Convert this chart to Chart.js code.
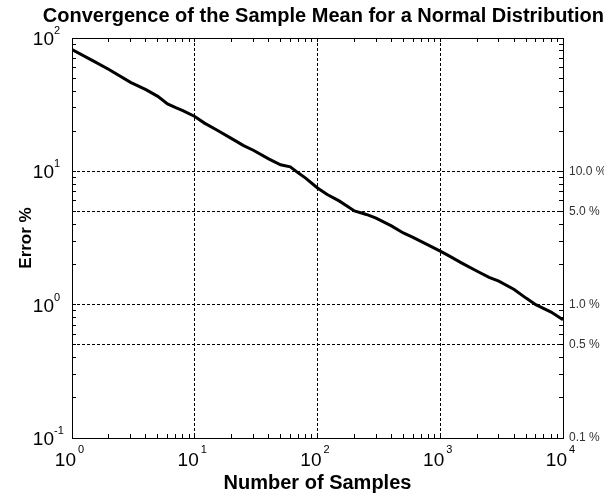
<!DOCTYPE html>
<html>
<head>
<meta charset="utf-8">
<script src="https://cdn.jsdelivr.net/npm/chart.js@4/dist/chart.umd.min.js"></script>
<style>
  html, body { margin: 0; padding: 0; background: #fff; }
  #wrap { width: 611px; height: 495px; }
</style>
</head>
<body>
<div id="wrap"><canvas id="convChart" width="611" height="495"></canvas></div>
<script>
// values
const sampleCounts = [1, 1.5, 2, 3, 4, 5, 6, 7, 8, 10, 12, 15, 20, 25, 30, 40, 50, 60, 70, 80,
    100, 120, 150, 200, 250, 300, 400, 500, 600, 800, 1000, 1200, 1500, 2000, 2500, 3000,
    4000, 5000, 6000, 8000, 10000];
const errorPct = [82, 67, 58, 46.5, 41, 36.5, 32, 30, 28.5, 25.8, 23, 20.5, 17.6, 15.6, 14.4, 12.4, 11.2, 10.8, 9.7, 8.9,
    7.5, 6.7, 6.0, 5.05, 4.75, 4.45, 3.9, 3.45, 3.2, 2.8, 2.52, 2.3, 2.05, 1.78, 1.6, 1.5,
    1.3, 1.12, 1.0, 0.88, 0.77];

const xExponents = ['0', '1', '2', '3', '4'];
const yExponents = ['-1', '0', '1', '2'];
const pctTicks = [10, 5, 1, 0.5, 0.1];
const pctLabels = ['10.0 %', '5.0 %', '1.0 %', '0.5 %', '0.1 %'];

const FONT = "'Liberation Sans', Arial, sans-serif";

// 1..9 x each decade between min and max (tick marks)
function logTicks(min, max) {
    const out = [];
    for (let e = Math.round(Math.log10(min)); e < Math.round(Math.log10(max)); e++) {
        for (let k = 1; k < 10; k++) out.push({ value: +(k * Math.pow(10, e)).toPrecision(6), major: k === 1 });
    }
    out.push({ value: max, major: true });
    return out;
}
const isInnerDecade = (v, min, max) => v > min && v < max && Math.abs(Math.log10(v) - Math.round(Math.log10(v))) < 1e-9;

// "10" with a raised exponent, drawn at the scale's own pixel positions
const powerLabels = {
    id: 'powerLabels',
    afterDraw(chart) {
        const ctx = chart.ctx;
        const xs = chart.scales.x, ys = chart.scales.y;
        ctx.save();
        ctx.fillStyle = '#000';
        xExponents.forEach(ex => {
            const px = xs.getPixelForValue(Math.pow(10, +ex));
            ctx.font = '19px ' + FONT;
            ctx.textAlign = 'right';
            ctx.textBaseline = 'alphabetic';
            ctx.fillText('10', px + 4, xs.top + 28);
            ctx.font = '11px ' + FONT;
            ctx.textAlign = 'left';
            ctx.fillText(ex, px + 6, xs.top + 15);
        });
        yExponents.forEach(ex => {
            const py = ys.getPixelForValue(Math.pow(10, +ex));
            ctx.font = '19px ' + FONT;
            ctx.textAlign = 'right';
            ctx.textBaseline = 'alphabetic';
            ctx.fillText('10', ys.right - 18, py + 7);
            ctx.font = '11px ' + FONT;
            ctx.textAlign = 'left';
            ctx.fillText(ex, ys.right - 18, py - 4);
        });
        ctx.restore();
    }
};

const ctx = document.getElementById('convChart').getContext('2d');
new Chart(ctx, {
    type: 'line',
    data: {
        datasets: [{
            label: 'Error %',
            data: sampleCounts.map((n, i) => ({ x: n, y: errorPct[i] })),
            borderColor: '#000',
            borderWidth: 3,
            pointRadius: 0,
            tension: 0,
            fill: false
        }]
    },
    options: {
        responsive: false,
        animation: false,
        devicePixelRatio: 1,
        layout: { padding: { left: 0, top: 0, bottom: 0, right: 7 } },
        plugins: {
            legend: { display: false },
            tooltip: { enabled: false },
            title: {
                display: true,
                text: 'Convergence of the Sample Mean for a Normal Distribution',
                align: 'end',
                color: '#000',
                font: { family: FONT, size: 20, weight: 'bold' },
                padding: { top: 4, bottom: 10 }
            }
        },
        scales: {
            x: {
                type: 'logarithmic',
                position: 'bottom',
                min: 1, max: 10000,
                afterBuildTicks: s => { s.ticks = logTicks(1, 10000); },
                afterFit: s => { s.height = 57; },
                ticks: { display: false, autoSkip: false },
                grid: {
                    color: c => isInnerDecade(c.tick.value, 1, 10000) ? '#000' : 'transparent',
                    tickColor: '#000',
                    tickLength: -4,
                    lineWidth: 1
                },
                border: { color: '#000', width: 1, dash: [3, 2] },
                title: {
                    display: true,
                    text: 'Number of Samples',
                    color: '#000',
                    font: { family: FONT, size: 20, weight: 'bold' },
                    padding: { top: 0, bottom: 0 }
                }
            },
            x2: {
                type: 'logarithmic',
                position: 'top',
                min: 1, max: 10000,
                afterBuildTicks: s => { s.ticks = logTicks(1, 10000); },
                afterFit: s => { s.height = 0; },
                ticks: { display: false, autoSkip: false },
                grid: { drawOnChartArea: false, color: 'transparent', tickColor: '#000', tickLength: -4 },
                border: { color: '#000', width: 1 }
            },
            y: {
                type: 'logarithmic',
                position: 'left',
                min: 0.1, max: 100,
                afterBuildTicks: s => { s.ticks = logTicks(0.1, 100); },
                afterFit: s => { s.width = 72; },
                ticks: { display: false, autoSkip: false },
                grid: { drawOnChartArea: false, color: 'transparent', tickColor: '#000', tickLength: -4 },
                border: { color: '#000', width: 1 },
                title: {
                    display: true,
                    text: 'Error %',
                    color: '#000',
                    font: { family: FONT, size: 17, weight: 'bold' },
                    padding: { top: 16, bottom: 0 }
                }
            },
            y2: {
                type: 'logarithmic',
                position: 'right',
                min: 0.1, max: 100,
                afterBuildTicks: s => { s.ticks = logTicks(0.1, 100); },
                afterFit: s => { s.width = 41; },
                ticks: {
                    autoSkip: false,
                    padding: 10,
                    color: '#333',
                    font: { family: FONT, size: 12 },
                    callback: v => {
                        const i = pctTicks.findIndex(p => Math.abs(p - v) < 1e-9);
                        return i >= 0 ? pctLabels[i] : '';
                    }
                },
                grid: {
                    color: c => (pctTicks.includes(c.tick.value) && c.tick.value !== 0.1) ? '#000' : 'transparent',
                    tickColor: '#000',
                    tickLength: -4,
                    lineWidth: 1
                },
                border: { color: '#000', width: 1, dash: [3, 2] }
            }
        }
    },
    plugins: [powerLabels]
});
</script>
</body>
</html>
